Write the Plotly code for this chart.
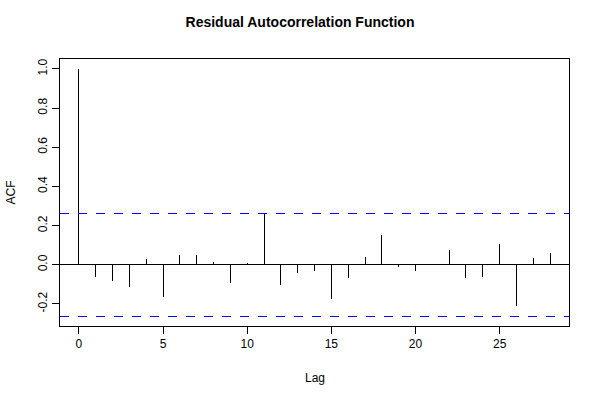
import plotly.graph_objects as go

lags = list(range(29))
acf = [1.0, -0.06, -0.085, -0.114, 0.029, -0.165, 0.051, 0.049, 0.014, -0.094,
       0.01, 0.26, -0.105, -0.043, -0.034, -0.175, -0.065, 0.039, 0.151, -0.012,
       -0.032, -0.003, 0.075, -0.065, -0.06, 0.105, -0.211, 0.036, 0.061]
conf = 0.263
x_ticks = [0, 5, 10, 15, 20, 25]
y_ticks = [-0.2, 0.0, 0.2, 0.4, 0.6, 0.8, 1.0]
y_tick_labels = ["-0.2", "0.0", "0.2", "0.4", "0.6", "0.8", "1.0"]

xs, ys = [], []
for l, v in zip(lags, acf):
    xs += [l, l, None]
    ys += [0, v, None]

xmin, xmax = -1.12, 29.12
ymin, ymax = -0.3125, 1.0505

fig = go.Figure()
fig.add_trace(go.Scatter(x=xs, y=ys, mode="lines", line=dict(color="black", width=1),
                         hoverinfo="skip", showlegend=False))
fig.add_trace(go.Scatter(x=[xmin, xmax, None, xmin, xmax], y=[conf, conf, None, -conf, -conf],
                         mode="lines", line=dict(color="#0000FF", width=1, dash="dash"),
                         hoverinfo="skip", showlegend=False))

fig.add_shape(type="line", xref="paper", x0=0, x1=1, yref="y", y0=0, y1=0,
              line=dict(color="black", width=1))

fig.update_layout(
    width=600, height=400,
    margin=dict(l=60, r=31, t=59, b=74, autoexpand=False),
    paper_bgcolor="white", plot_bgcolor="white",
    font=dict(family="Liberation Sans, Arial, sans-serif", size=12, color="black"),
    title=dict(text="<b>Residual Autocorrelation Function</b>", x=0.5, xanchor="center",
               y=1 - 22 / 400, yanchor="middle", font=dict(size=14)),
    showlegend=False,
    annotations=[
        dict(text="Lag", xref="paper", x=0.5, yref="paper", y=-(378 - 326) / 267,
             xanchor="center", yanchor="middle", showarrow=False, font=dict(size=12)),
        dict(text="ACF", xref="paper", x=-(60 - 10) / 509, yref="paper", y=0.5,
             xanchor="center", yanchor="middle", showarrow=False, textangle=-90,
             font=dict(size=12)),
    ],
)
fig.update_xaxes(range=[xmin, xmax], tickvals=x_ticks, ticktext=[str(t) for t in x_ticks],
                 ticks="outside", ticklen=7, tickcolor="black", showgrid=False, zeroline=False,
                 showline=True, linecolor="black", linewidth=1, mirror=True, automargin=False)
fig.update_yaxes(range=[ymin, ymax], tickvals=y_ticks, ticktext=y_tick_labels,
                 ticks="outside", ticklen=7, tickcolor="black", showgrid=False, zeroline=False,
                 showline=True, linecolor="black", linewidth=1, mirror=True, tickangle=-90,
                 automargin=False)

fig.write_html(
    "out.html",
    config={"displayModeBar": False, "staticPlot": True},
    post_script=(
        "document.body.style.margin='0';document.body.style.overflow='hidden';"
        "document.querySelectorAll('.main-svg').forEach(function(s){s.style.shapeRendering='crispEdges';});"
    ),
)
